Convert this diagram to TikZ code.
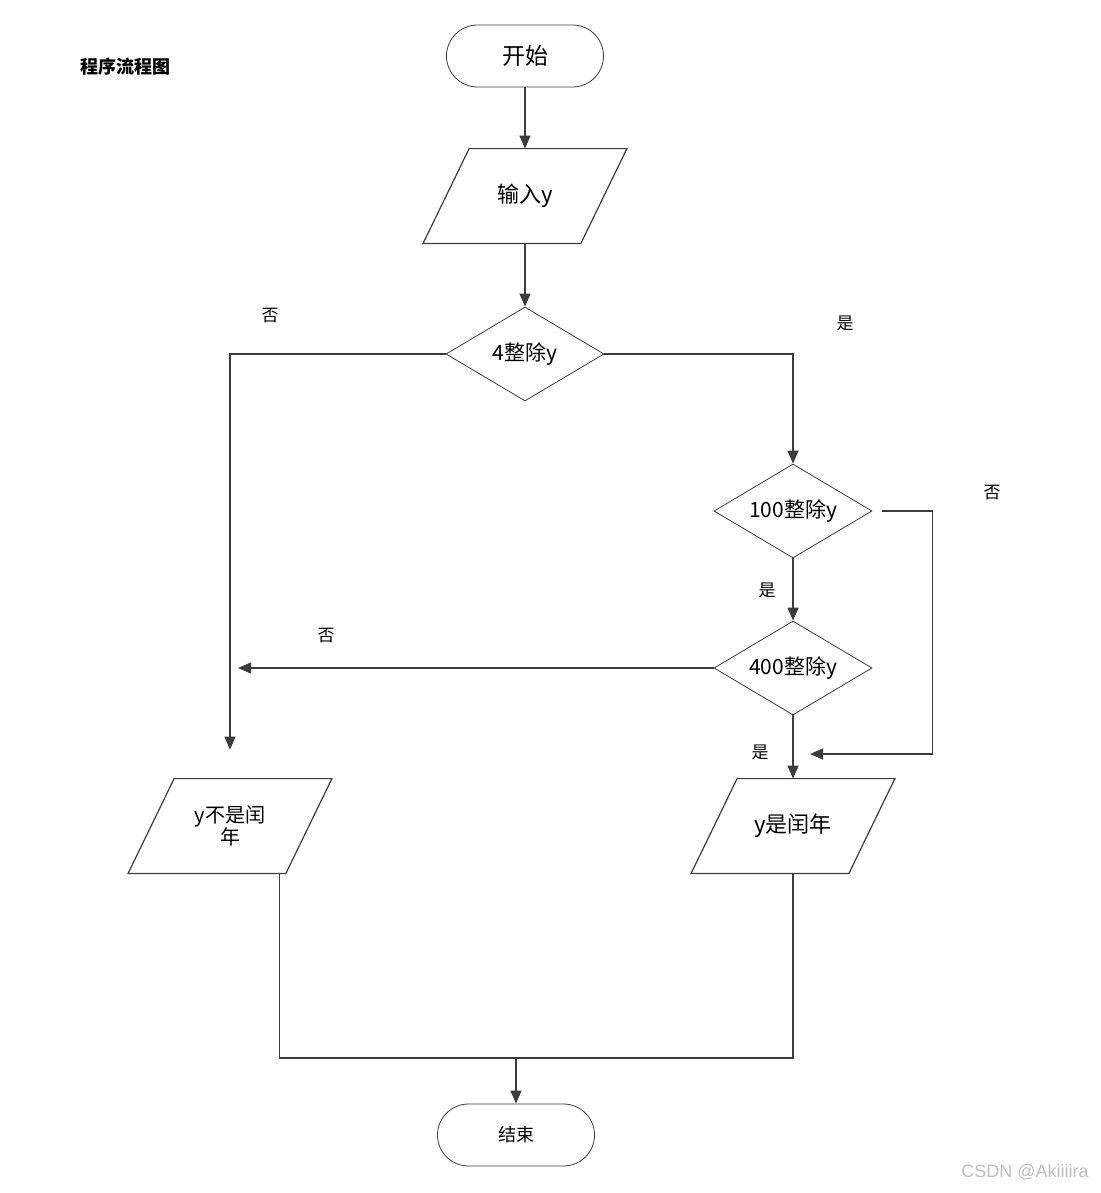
\documentclass[tikz,border=0pt]{standalone}
\usepackage{fontspec}
\setmainfont{Noto Sans CJK SC}
\newfontfamily\markfont{Liberation Sans}
\usetikzlibrary{calc, positioning, shapes.geometric, arrows.meta}
\definecolor{LineGray}{RGB}{60, 60, 60}
\definecolor{MarkGray}{RGB}{190, 190, 190}

\begin{document}
\begin{tikzpicture}[
        x=0.5pt, y=-0.5pt,
        terminal/.style={draw=LineGray, fill=white, rectangle, rounded corners=15.5pt, minimum width=78.5pt, minimum height=31pt, inner sep=0pt, align=center, font=\fontsize{11.5pt}{13pt}\selectfont},
        io/.style={rectangle, minimum width=78.5pt, minimum height=47pt, inner sep=0pt, align=center, font=\fontsize{11pt}{13pt}\selectfont,
          append after command={\pgfextra{\let\iobox\tikzlastnode
            \draw [line] ([xshift=-11.5pt]\iobox.south west) -- ([xshift=11.5pt]\iobox.north west)
              -- ([xshift=11.5pt]\iobox.north east) -- ([xshift=-11.5pt]\iobox.south east) -- cycle;}}},
        decision/.style={draw=LineGray, fill=white, diamond, aspect=1.68, minimum width=79pt, minimum height=47pt, inner sep=0pt, align=center, font=\fontsize{10.5pt}{12pt}\selectfont},
        tag/.style={font=\fontsize{8.5pt}{10pt}\selectfont},
        line/.style={draw=LineGray, line width=0.6pt},
        arrow/.style={line, -{Triangle[length=6.5pt, width=5.5pt]}}
      ]
        \useasboundingbox (0,0) rectangle (1101,1193);

        % Nodes
        \node [font=\fontsize{9pt}{10pt}\selectfont\bfseries] (title) at (125,67) {程序流程图};
        \node [terminal] (start) at (525,56) {开始};
        \node [io] (input) at (525,196) {输入y};
        \node [decision] (d4) at (525,354) {4整除y};
        \node [decision] (d100) at (793,511) {100整除y};
        \node [decision] (d400) at (793,668) {400整除y};
        \node [io] (leap) at (793,826) {y是闰年};
        \node [io, font=\fontsize{10pt}{11pt}\selectfont] (notleap) at (230,826) {y不是闰\\年};
        \node [terminal, font=\fontsize{9pt}{11pt}\selectfont] (stop) at (516,1135) {结束};
        \coordinate (merge) at (516,1058);
        \coordinate (joinB) at (793,754);

        % Connections
        \draw [arrow] (start) -- (input);
        \draw [arrow] (input) -- (d4);
        \draw [arrow] (d4.west) -| ([yshift=14.5pt]notleap.north);
        \draw [arrow] (d4.east) -| (d100.north);
        \draw [arrow] (d100.south) -- (d400.north);
        \draw [arrow, shorten <=5pt, shorten >=8.5pt] (d100.east) -- ++(60,0) |- (joinB);
        \draw [arrow, shorten >=4pt] (d400.west) -- (d400.west -| notleap.north);
        \draw [arrow] (d400.south) -- (leap.north);
        \draw [line] ([xshift=24.75pt]notleap.south) |- (merge) -| (leap.south);
        \draw [arrow] (merge) -- (stop.north);

        % Labels
        \node [tag] at (270,316) {否};
        \node [tag] at (845,323) {是};
        \node [tag] at (992,493) {否};
        \node [tag] at (767,590) {是};
        \node [tag] at (326,636) {否};
        \node [tag] at (760,752) {是};
        \node [text=MarkGray, font=\markfont\fontsize{9pt}{10pt}\selectfont] (mark) at (1025,1172) {CSDN @Akiiiira};
      \end{tikzpicture}
\end{document}
